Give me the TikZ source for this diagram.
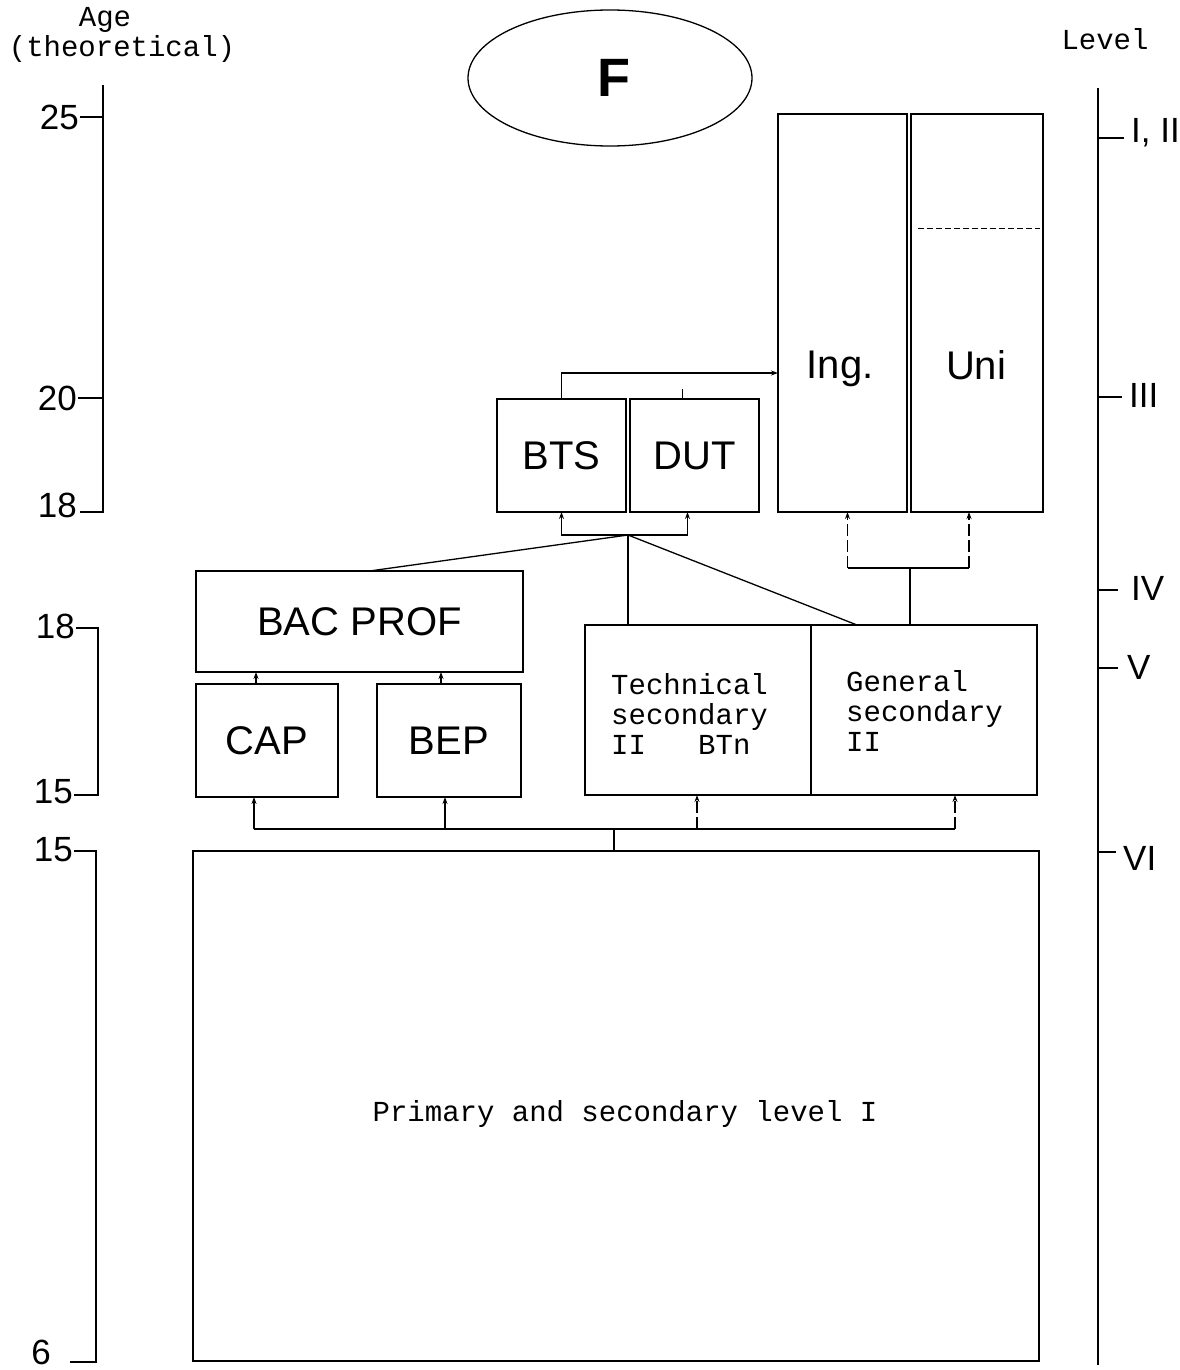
\documentclass[tikz,border=0pt]{standalone}
\usepackage{fontspec}
\setmainfont{Liberation Sans}
\newfontfamily\monof{Liberation Mono}
\usetikzlibrary{arrows.meta,shapes.geometric}
\tikzset{
  ln/.style={line width=1.3pt},
  box/.style={draw, ln, inner sep=0pt, outer sep=0pt, anchor=north west},
  big/.style={font=\fontsize{40}{48}\selectfont, inner sep=0pt},
  axnum/.style={font=\fontsize{35}{40}\selectfont, inner sep=0pt},
  mono/.style={font=\monof\fontsize{29}{30}\selectfont, inner sep=0pt, align=left},
  arr/.style={-{Stealth[length=7pt,width=5pt]}},
  brk/.style={dash pattern=on 12pt off 4pt},
}
\begin{document}
\begin{tikzpicture}[x=1pt,y=-1pt]
\useasboundingbox (0,0) rectangle (1179,1370);

% headings
\node[mono, align=center] (agehead) at (122,35) {\hspace*{-34pt}Age\\(theoretical)};
\node[mono] (levelhead) at (1105,39) {Level};

% ellipse
\node[draw, ln, ellipse, minimum width=284pt, minimum height=136pt] (f) at (610,78) {};
\node[font=\bfseries\fontsize{54}{60}\selectfont, inner sep=0pt] (ftxt) at (614,78) {F};

% boxes
\node[box, minimum width=129pt, minimum height=398pt] (ing) at (778,114) {};
\node[big] (ingt) at (840,369) {Ing.};
\node[box, minimum width=132pt, minimum height=398pt] (uni) at (911,114) {};
\node[big] (unit) at (976,365) {Uni};
\draw[line width=1pt, dash pattern=on 6pt off 3pt] ([xshift=7pt,yshift=-114pt]uni.north west) -- ([xshift=-3pt,yshift=-114pt]uni.north east);

\node[box, big, minimum width=129pt, minimum height=113pt] (bts) at (497,399) {BTS};
\node[box, big, minimum width=129pt, minimum height=113pt] (dut) at (630,399) {DUT};

\node[box, big, minimum width=327pt, minimum height=101pt] (bac) at (196,571) {BAC PROF};
\node[box, big, minimum width=142pt, minimum height=113pt] (cap) at (196,684) {CAP};
\node[box, big, minimum width=144pt, minimum height=113pt] (bep) at (377,684) {BEP};

\node[box, minimum width=226pt, minimum height=170pt] (tech) at (585,625) {};
\node[mono, anchor=north west] (techt) at (611,673) {Technical\\secondary\\II~~~BTn};
\node[box, minimum width=226pt, minimum height=170pt] (gen) at (811,625) {};
\node[mono, anchor=north west] (gent) at (846,670) {General\\secondary\\II};

\node[box, minimum width=846pt, minimum height=510pt] (prim) at (193,851) {};
\node[mono] (primt) at (625,1114) {Primary and secondary level I};

% connectors: BTS -> Ing.
\draw[ln, arr] (bts.north) |- ([yshift=-60pt]ing.west);
\draw[ln] ([xshift=-12pt]dut.north) -- ++(0,-10);

% bracket below BTS/DUT
\coordinate (j1) at (628,535);
\draw[ln, {Stealth[length=7pt,width=5pt]}-{Stealth[length=7pt,width=5pt]}] (bts.south) |- (j1) -| ([xshift=-7pt]dut.south);
\draw[ln] (j1) -- ([xshift=10pt]bac.north);
\draw[ln] (j1) -- (j1 |- tech.north);
\draw[ln] (j1) -- ([xshift=46pt]gen.north west);

% bracket below Ing./Uni
\coordinate (j2) at (910,568);
\draw[ln] ([xshift=5pt]ing.south |- j2) -- ([xshift=-8pt]uni.south |- j2);
\draw[ln, brk, arr] ([xshift=5pt]ing.south |- j2) -- ([xshift=5pt]ing.south);
\draw[ln, brk, arr] ([xshift=-8pt]uni.south |- j2) -- ([xshift=-8pt]uni.south);
\draw[ln] (j2) -- (j2 |- gen.north);

% CAP/BEP -> BAC PROF
\draw[ln, arr] ([xshift=-11pt]cap.north) -- ([xshift=-11pt]cap.north |- bac.south);
\draw[ln, arr] ([xshift=-8pt]bep.north) -- ([xshift=-8pt]bep.north |- bac.south);

% bottom distribution
\coordinate (j3) at (614,829);
\draw[ln] (prim.north -| j3) -- (j3);
\draw[ln] ([xshift=-13pt]cap.south |- j3) -- ([xshift=31pt]gen.south |- j3);
\draw[ln, arr] ([xshift=-13pt]cap.south |- j3) -- ([xshift=-13pt]cap.south);
\draw[ln, arr] ([xshift=-4pt]bep.south |- j3) -- ([xshift=-4pt]bep.south);
\draw[ln, brk, arr] ([xshift=-1pt]tech.south |- j3) -- ([xshift=-1pt]tech.south);
\draw[ln, brk, arr] ([xshift=31pt]gen.south |- j3) -- ([xshift=31pt]gen.south);

% left age axis
\draw[ln] (103,85) -- (103,512) -- (80,512);
\draw[ln] (80,117) -- (103,117);
\draw[ln] (78,398) -- (103,398);
\draw[ln] (76,628) -- (98,628) -- (98,795) -- (74,795);
\draw[ln] (74,851) -- (96,851) -- (96,1362) -- (70,1362);
\node[axnum, anchor=east] (a25) at (79,117) {25};
\node[axnum, anchor=east] (a20) at (77,398) {20};
\node[axnum, anchor=east] (a18a) at (77,505) {18};
\node[axnum, anchor=east] (a18b) at (75,626) {18};
\node[axnum, anchor=east] (a15a) at (73,792) {15};
\node[axnum, anchor=east] (a15b) at (73,850) {15};
\node[axnum, anchor=east] (a6) at (51,1352) {6};

% right level axis
\draw[ln] (1098,88) -- (1098,1365);
\draw[ln] (1098,138) -- (1124,138);
\draw[ln] (1098,397) -- (1122,397);
\draw[ln] (1098,590) -- (1118,590);
\draw[ln] (1098,668) -- (1118,668);
\draw[ln] (1098,852) -- (1116,852);
\node[axnum, anchor=west] (l1) at (1131,133) {I, II};
\node[axnum, anchor=west] (l3) at (1129,395) {III};
\node[axnum, anchor=west] (l4) at (1131,588) {IV};
\node[axnum, anchor=west] (l5) at (1127,667) {V};
\node[axnum, anchor=west] (l6) at (1123,858) {VI};
\end{tikzpicture}
\end{document}
